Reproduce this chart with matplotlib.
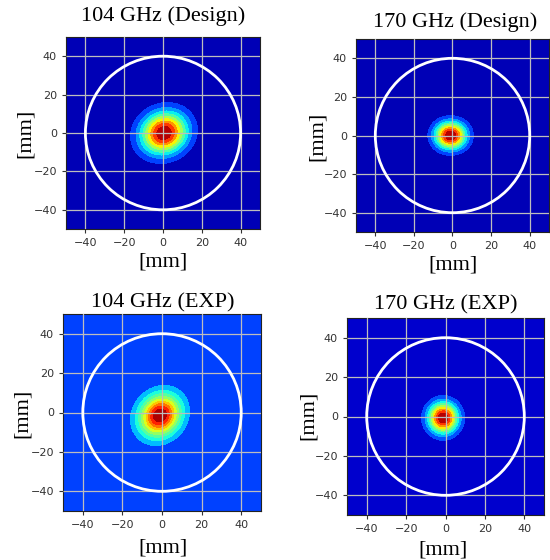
import numpy as np
import matplotlib.pyplot as plt
from matplotlib.patches import Circle

# panel settings
titles = ['104 GHz (Design)', '170 GHz (Design)', '104 GHz (EXP)', '170 GHz (EXP)']
center_x = [0.5, -1.0, -1.0, -1.2]
center_y = [0.0, 0.0, -1.5, -0.7]
sigma_x = [8.2, 5.5, 7.5, 5.1]      # gaussian widths, mm
sigma_y = [7.2, 4.8, 6.5, 5.3]
tilt_deg = [25, 0, 50, 0]
# jet positions of the 10 colour bands, and per-panel start (bg colour)
band_pos = [0.05, 0.19, 0.28, 0.36, 0.45, 0.55, 0.65, 0.75, 0.85, 0.95]
color_start = [0.0, 0.0, 0.147, 0.021]
aperture_r = 40
ticks = [-40, -20, 0, 20, 40]

# axes boxes in pixels: left, top, right, bottom
boxes = [(66, 37, 260, 229), (356, 39, 549, 232), (63, 314, 261, 511), (347, 318, 544, 515)]
title_xy = [(163, 16), (455, 22), (163, 303), (446, 305)]
ylab_xy = [(25, 133), (317, 136), (22, 413), (308, 415)]
xlab_xy = [(163, 262), (453, 265), (163, 548), (443, 550)]

W, H = 550, 560
fig = plt.figure(figsize=(W / 100, H / 100), dpi=100)
serif = ['Liberation Serif', 'DejaVu Serif']

x = np.linspace(-50, 50, 401)
X, Y = np.meshgrid(x, x)
levels = np.linspace(0, 1, 11)
jet = plt.get_cmap('jet')

for i in range(4):
    l, t, r, b = boxes[i]
    ax = fig.add_axes([l / W, 1 - b / H, (r - l) / W, (b - t) / H])
    th = np.deg2rad(tilt_deg[i])
    dx = X - center_x[i]
    dy = Y - center_y[i]
    u = dx * np.cos(th) + dy * np.sin(th)
    v = -dx * np.sin(th) + dy * np.cos(th)
    Z = np.exp(-u**2 / (2 * sigma_x[i]**2) - v**2 / (2 * sigma_y[i]**2))
    c0 = color_start[i]
    cols = [jet(c0 + (1 - c0) * p) for p in band_pos]
    ax.contourf(X, Y, Z, levels=levels, colors=cols, zorder=1)
    ax.add_patch(Circle((0, 0), aperture_r, fill=False, ec='white', lw=2, zorder=3))
    ax.set_xlim(-50, 50)
    ax.set_ylim(-50, 50)
    ax.set_xticks(ticks)
    ax.set_yticks(ticks)
    ax.set_axisbelow(False)
    ax.grid(True, color='#bdbdbd', lw=0.9)
    ax.tick_params(labelsize=8, colors='#333333', length=3, width=0.8)
    for s in ax.spines.values():
        s.set_color('#222222')
        s.set_linewidth(0.8)

    fig.text(title_xy[i][0] / W, 1 - title_xy[i][1] / H, titles[i], ha='center', va='center',
             fontsize=16, family=serif)
    fig.text(ylab_xy[i][0] / W, 1 - ylab_xy[i][1] / H, '[mm]', ha='center', va='center',
             fontsize=16, family=serif, rotation=90)
    fig.text(xlab_xy[i][0] / W, 1 - xlab_xy[i][1] / H, '[mm]', ha='center', va='center',
             fontsize=16, family=serif)

fig.savefig('out.png', dpi=100)
